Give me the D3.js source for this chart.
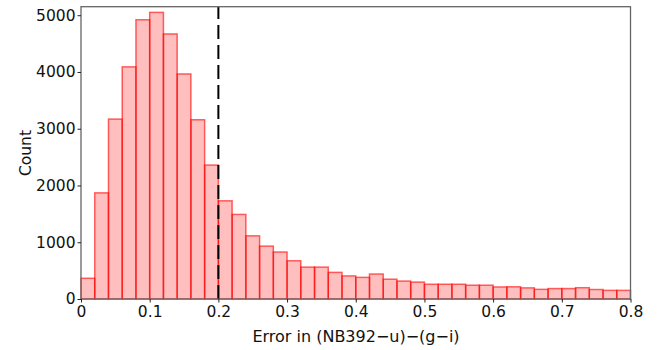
<!DOCTYPE html>
<html>
<head>
<meta charset="utf-8">
<script src="https://cdn.jsdelivr.net/npm/d3@7"></script>
<style>
  html, body { margin: 0; padding: 0; background: #fff; }
  svg { display: block; }
  text { font-family: "DejaVu Sans", sans-serif; fill: #111; }
</style>
</head>
<body>
<svg id="chart" width="667" height="350"></svg>
<script>
// Histogram of colour errors, bins of width 0.02 from 0 to 0.8
const binStart = 0;
const binWidth = 0.02;
const counts = [
  365, 1870, 3170, 4090, 4920, 5050, 4670, 3965, 3158, 2360,
  1730, 1490, 1113, 932, 828, 674, 562, 562, 469, 407,
  381, 440, 349, 316, 298, 260, 260, 260, 243, 243,
  212, 215, 196, 170, 184, 184, 199, 167, 152, 152
];
const xTicks = [0, 0.1, 0.2, 0.3, 0.4, 0.5, 0.6, 0.7, 0.8];
const xTickLabels = ["0", "0.1", "0.2", "0.3", "0.4", "0.5", "0.6", "0.7", "0.8"];
const yTicks = [0, 1000, 2000, 3000, 4000, 5000];
const yTickLabels = ["0", "1000", "2000", "3000", "4000", "5000"];
const cutValue = [0.2];
const xTitle = "Error in (NB392\u2212u)\u2212(g\u2212i)";
const yTitle = "Count";

const bins = counts.map((c, i) => ({
  x0: binStart + i * binWidth,
  x1: binStart + (i + 1) * binWidth,
  count: c
}));

const svg = d3.select("#chart");
const plotLeft = 81, plotRight = 630.5, plotTop = 6.7, plotBottom = 299;

const x = d3.scaleLinear().domain([0, 0.8]).range([plotLeft, plotRight]);
const y = d3.scaleLinear().domain([0, 5150]).range([plotBottom, plotTop]);

// bars
svg.append("g")
  .selectAll("rect")
  .data(bins)
  .join("rect")
  .attr("x", d => x(d.x0))
  .attr("y", d => y(d.count))
  .attr("width", d => x(d.x1) - x(d.x0))
  .attr("height", d => y(0) - y(d.count))
  .attr("fill", "rgba(255,0,0,0.25)")
  .attr("stroke", "rgba(255,0,0,0.6)")
  .attr("stroke-width", 1.5);

// dashed cut line, drawn upward from the x axis
svg.append("g")
  .selectAll("line")
  .data(cutValue)
  .join("line")
  .attr("x1", d => x(d)).attr("x2", d => x(d))
  .attr("y1", plotBottom).attr("y2", plotTop)
  .attr("stroke", "#000")
  .attr("stroke-width", 2)
  .attr("stroke-dasharray", "14,6");

// frame
svg.append("rect")
  .attr("x", plotLeft).attr("y", plotTop)
  .attr("width", plotRight - plotLeft).attr("height", plotBottom - plotTop)
  .attr("fill", "none")
  .attr("stroke", "#666")
  .attr("stroke-width", 1.3);

// axes
const xAxis = d3.axisBottom(x)
  .tickValues(xTicks)
  .tickFormat((d, i) => xTickLabels[i])
  .tickSize(3.5).tickSizeOuter(0).tickPadding(3);
const yAxis = d3.axisLeft(y)
  .tickValues(yTicks)
  .tickFormat((d, i) => yTickLabels[i])
  .tickSize(3.5).tickSizeOuter(0).tickPadding(2);

const gx = svg.append("g").attr("transform", `translate(0,${plotBottom})`).call(xAxis);
const gy = svg.append("g").attr("transform", `translate(${plotLeft},0)`).call(yAxis);
[gx, gy].forEach(g => {
  g.select(".domain").remove();
  g.selectAll(".tick line").attr("stroke", "#222").attr("stroke-width", 1);
  g.selectAll(".tick text").style("font-size", "15.5px").attr("fill", "#111");
});

// axis titles
svg.append("text")
  .attr("x", 356)
  .attr("y", 342)
  .attr("text-anchor", "middle")
  .style("font-size", "16px")
  .text(xTitle);

svg.append("text")
  .attr("transform", `translate(31,153) rotate(-90)`)
  .attr("text-anchor", "middle")
  .style("font-size", "15.5px")
  .text(yTitle);
</script>
</body>
</html>
